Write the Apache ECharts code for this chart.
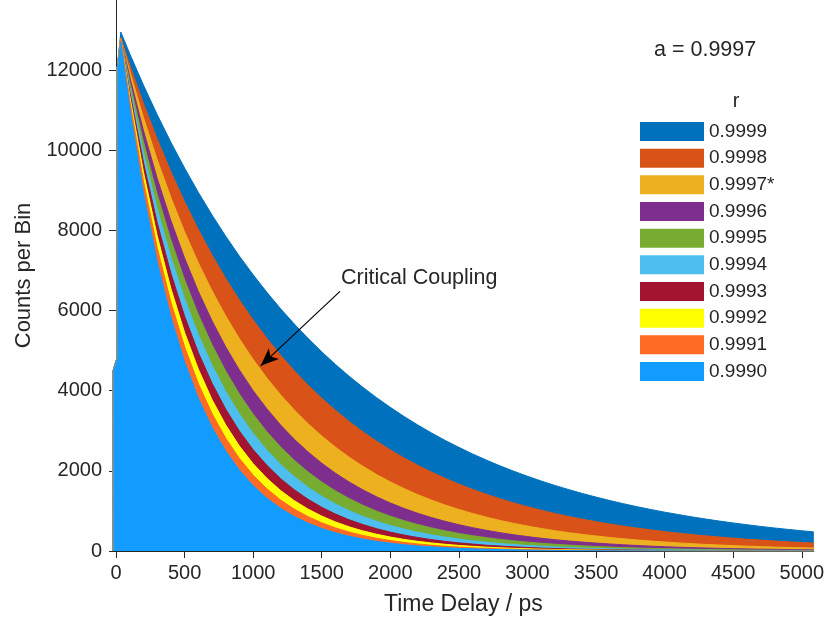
<!DOCTYPE html>
<html>
<head>
<meta charset="utf-8">
<script src="https://cdn.jsdelivr.net/npm/echarts@6/dist/echarts.min.js"></script>
<style>
html,body{margin:0;padding:0;background:#fff;}
#chart{width:827px;height:628px;}
</style>
</head>
<body>
<div id="chart"></div>
<script>
// ---- data (time delay in ps, counts per bin) ----
const timePs = [-22,-21,6,7,35,
  100,200,300,400,500,600,700,800,900,1000,
  1100,1200,1300,1400,1500,1600,1700,1800,1900,2000,
  2100,2200,2300,2400,2500,2600,2700,2800,2900,3000,
  3100,3200,3300,3400,3500,3600,3700,3800,3900,4000,
  4100,4200,4300,4400,4500,4600,4700,4800,4900,5000,5088];

const r9999 = [0,4500,4800,12000,12950,
  12411,11626,10890,10201,9556,8951,8385,7854,7357,6892,
  6456,6047,5665,5306,4970,4656,4361,4085,3827,3585,
  3358,3146,2947,2760,2586,2422,2269,2125,1991,1865,
  1747,1636,1533,1436,1345,1260,1180,1105,1035,970,
  909,851,797,747,700,656,614,575,539,505,476];
const r9998 = [0,4500,4800,12000,12800,
  12131,11169,10283,9467,8716,8025,7388,6802,6262,5765,
  5308,4887,4499,4142,3813,3511,3232,2976,2740,2523,
  2323,2139,1969,1813,1669,1537,1415,1303,1200,1105,
  1017,936,862,794,731,673,620,571,526,484,
  446,411,378,348,320,295,272,250,230,212,197];
const r9997 = [0,4500,4800,12000,12800,
  11978,10816,9767,8819,7964,7191,6493,5863,5294,4780,
  4316,3897,3519,3178,2870,2592,2341,2114,1909,1724,
  1557,1406,1270,1147,1036,936,845,763,689,622,
  562,507,458,414,374,338,305,275,248,224,
  202,182,164,148,134,121,109,98,89,80,73];
const r9996 = [0,4500,4800,12000,12800,
  11836,10493,9302,8246,7310,6480,5745,5093,4515,4002,
  3548,3145,2788,2472,2191,1942,1722,1526,1353,1199,
  1063,942,835,740,656,582,516,457,405,359,
  318,282,250,222,197,175,155,137,121,107,
  95,84,75,66,59,52,46,41,36,32,29];
const r9995 = [0,4500,4800,12000,12800,
  11710,10211,8904,7764,6770,5903,5147,4488,3914,3413,
  2976,2595,2263,1973,1720,1500,1308,1141,995,868,
  757,660,576,502,438,382,333,290,253,221,
  193,168,147,128,112,98,85,74,65,57,
  50,43,38,33,29,25,22,19,17,15,13];
const r9994 = [0,4500,4800,12000,12800,
  11591,9950,8541,7332,6294,5403,4638,3981,3417,2933,
  2518,2161,1855,1592,1367,1173,1007,864,742,637,
  547,470,403,346,297,255,219,188,161,138,
  119,102,88,75,64,55,47,41,35,30,
  26,22,19,16,14,12,10,9,8,7,6];
const r9993 = [0,4500,4800,12000,12800,
  11475,9700,8199,6931,5859,4952,4186,3538,2991,2528,
  2137,1806,1527,1291,1091,922,779,659,557,471,
  398,336,284,240,203,172,145,123,104,88,
  74,63,53,45,38,32,27,23,19,16,
  14,12,10,8,7,6,5,4,4,3,3];
const r9992 = [0,4500,4800,12000,12800,
  11361,9456,7871,6552,5454,4540,3779,3145,2618,2179,
  1814,1510,1257,1046,871,725,603,502,418,348,
  290,241,201,167,139,116,96,80,67,56,
  46,38,32,27,22,18,15,13,11,9,
  7,6,5,4,4,3,3,2,2,2,1];
const r9991 = [0,4500,4800,12000,12800,
  11254,9232,7574,6213,5097,4181,3430,2814,2308,1893,
  1553,1274,1045,857,703,577,473,388,318,261,
  214,176,144,118,97,80,65,53,44,36,
  30,24,20,16,13,11,9,7,6,5,
  4,3,3,2,2,2,1,1,1,1,1];
const r9990 = [0,4500,4800,12000,12700,
  11060,8940,7227,5842,4722,3817,3086,2495,2017,1630,
  1318,1065,861,696,563,455,368,297,240,194,
  157,127,103,83,67,54,44,36,29,23,
  19,15,12,10,8,7,5,4,4,3,
  2,2,2,1,1,1,1,1,1,0,0];

const seriesNames = ['0.9999','0.9998','0.9997*','0.9996','0.9995','0.9994','0.9993','0.9992','0.9991','0.9990'];
const seriesValues = [r9999,r9998,r9997,r9996,r9995,r9994,r9993,r9992,r9991,r9990];
const xTickValues = [0,500,1000,1500,2000,2500,3000,3500,4000,4500,5000];
const yTickValues = [0,2000,4000,6000,8000,10000,12000];
const annotationText = 'Critical Coupling';
const paramText = 'a = 0.9997';
const legendTitle = 'r';
const arrowFrom = [1633, 6478];
const arrowTo = [1055, 4620];

// ---- styling ----
const colors = ['#0072BD','#D95319','#EDB120','#7E2F8E','#77AC30','#4DBEEE','#A2142F','#FFFF00','#FF6A24','#139CFF'];
const FONT = "'Liberation Sans', Arial, Helvetica, sans-serif";
const TXT = '#262626';

const chart = echarts.init(document.getElementById('chart'), null, {renderer:'canvas'});

const series = seriesNames.map((name, i) => {
  const s = {
    name: name,
    type: 'line',
    xAxisIndex: 0,
    yAxisIndex: 0,
    data: timePs.map((t, j) => [t, seriesValues[i][j]]),
    showSymbol: false,
    symbol: 'none',
    silent: true,
    animation: false,
    color: colors[i],
    itemStyle: {color: colors[i]},
    lineStyle: {width: 1, color: colors[i]},
    areaStyle: {opacity: 1, color: colors[i]}
  };
  if (i === seriesNames.length - 1) {
    s.markLine = {
      silent: true,
      animation: false,
      symbol: ['none', 'arrow'],
      symbolSize: [11, 18],
      lineStyle: {color: '#000', width: 1.2, type: 'solid'},
      label: {show: false},
      emphasis: {disabled: true},
      data: [[{coord: arrowFrom}, {coord: arrowTo}]]
    };
  }
  return s;
});

const axisLineStyle = {color: TXT, width: 1};
const plain = v => String(v);

const option = {
  animation: false,
  backgroundColor: '#fff',
  textStyle: {fontFamily: FONT},
  grid: {left: 113, right: 13, top: -3, bottom: 77, containLabel: false},
  xAxis: [
    {
      type: 'value', position: 'bottom', min: -22, max: 5088,
      axisLine: {show: false},
      axisTick: {show: false},
      splitLine: {show: false},
      axisLabel: {customValues: xTickValues, formatter: plain, margin: 12, fontSize: 20, color: TXT, fontFamily: FONT},
      name: 'Time Delay / ps', nameLocation: 'middle', nameGap: 42,
      nameTextStyle: {fontSize: 23, color: TXT, fontFamily: FONT}
    },
    {
      type: 'value', position: 'top', min: -22, max: 5088,
      axisLine: {show: true, lineStyle: axisLineStyle},
      axisTick: {show: true, inside: true, length: 7, customValues: xTickValues, lineStyle: axisLineStyle},
      axisLabel: {show: false},
      splitLine: {show: false}
    }
  ],
  yAxis: [
    {
      type: 'value', position: 'left', min: 0, max: 13750,
      axisLine: {show: true, lineStyle: axisLineStyle},
      axisTick: {show: true, inside: true, length: 7, customValues: yTickValues, lineStyle: axisLineStyle},
      axisLabel: {customValues: yTickValues, formatter: plain, margin: 11, fontSize: 20, color: TXT, fontFamily: FONT},
      splitLine: {show: false},
      name: 'Counts per Bin', nameLocation: 'middle', nameGap: 78,
      nameTextStyle: {fontSize: 22, color: TXT, fontFamily: FONT}
    },
    {
      type: 'value', position: 'right', min: 0, max: 13750,
      axisLine: {show: true, lineStyle: axisLineStyle},
      axisTick: {show: true, inside: true, length: 7, customValues: yTickValues, lineStyle: axisLineStyle},
      axisLabel: {show: false},
      splitLine: {show: false}
    }
  ],
  legend: {
    orient: 'vertical',
    left: 635,
    top: 117,
    icon: 'rect',
    itemWidth: 64,
    itemHeight: 19,
    itemGap: 7.67,
    selectedMode: false,
    data: seriesNames,
    textStyle: {fontSize: 19, color: TXT, fontFamily: FONT, lineHeight: 19}
  },
  graphic: [
    {type: 'text', x: 654, y: 50, silent: true,
     style: {text: paramText, fontSize: 21.5, fontFamily: FONT, fill: TXT, align: 'left', verticalAlign: 'middle'}},
    {type: 'text', x: 736, y: 101, silent: true,
     style: {text: legendTitle, fontSize: 20, fontFamily: FONT, fill: TXT, align: 'center', verticalAlign: 'middle'}},
    {type: 'text', x: 341, y: 278, silent: true,
     style: {text: annotationText, fontSize: 21.5, fontFamily: FONT, fill: TXT, align: 'left', verticalAlign: 'middle'}}
  ],
  series: series
};

chart.setOption(option);
</script>
</body>
</html>
